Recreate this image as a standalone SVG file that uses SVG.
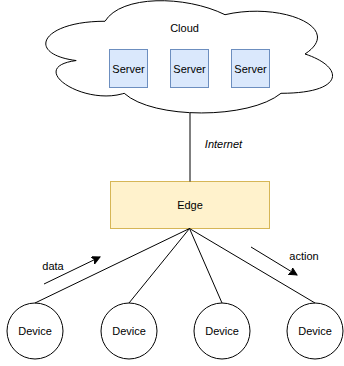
<svg xmlns="http://www.w3.org/2000/svg" width="344" height="366" viewBox="0 0 344 366">
  <style>
    text { font-family: "Liberation Sans", Arial, Helvetica, sans-serif; font-size: 11px; fill: #000; text-anchor: middle; }
    .server { fill: #dae8fc; stroke: #6c8ebf; stroke-width: 1; }
    .edge { fill: #fff2cc; stroke: #d6b656; stroke-width: 1; }
    .device { fill: #fff; stroke: #000; stroke-width: 1; }
    .cloud { fill: #fff; stroke: #000; stroke-width: 1; }
    .conn { stroke: #000; stroke-width: 1; fill: none; }
  </style>
  <defs>
    <marker id="arrow" markerWidth="10" markerHeight="10" refX="8" refY="4" orient="auto" markerUnits="userSpaceOnUse">
      <path d="M0,0 L8,4 L0,8 L2,4 Z" fill="#000" stroke="#000" stroke-width="1"/>
    </marker>
  </defs>

  <g id="cloud">
    <path class="cloud" d="M105,21.25 C41,21.25 25,54 76.2,60.55 C25,67.1 82.6,106.4 124.2,93.3 C153,119.5 249,119.5 281,93.3 C345,93.3 345,67.1 305,54 C345,27.8 281,1.6 225,14.7 C185,-4.95 121,-4.95 105,21.25 Z"/>
    <text x="184.5" y="32">Cloud</text>
  </g>

  <g id="server1">
    <rect class="server" x="109.5" y="49.5" width="38" height="38"/>
    <text x="128.5" y="72.5">Server</text>
  </g>
  <g id="server2">
    <rect class="server" x="170.5" y="49.5" width="38" height="38"/>
    <text x="189.5" y="72.5">Server</text>
  </g>
  <g id="server3">
    <rect class="server" x="231.5" y="49.5" width="38" height="38"/>
    <text x="250.5" y="72.5">Server</text>
  </g>

  <g id="edge">
    <rect class="edge" x="110.5" y="181.5" width="159" height="47"/>
    <text x="190" y="209">Edge</text>
  </g>

  <g id="device1">
    <circle class="device" cx="35" cy="331" r="28"/>
    <text x="35" y="335">Device</text>
  </g>
  <g id="device2">
    <circle class="device" cx="129" cy="331" r="28"/>
    <text x="129" y="335">Device</text>
  </g>
  <g id="device3">
    <circle class="device" cx="222" cy="331" r="28"/>
    <text x="222" y="335">Device</text>
  </g>
  <g id="device4">
    <circle class="device" cx="315" cy="331" r="28"/>
    <text x="315" y="335">Device</text>
  </g>

  <g id="connectors">
    <line class="conn" x1="190" y1="113" x2="190" y2="181.5"/>
    <text x="223.5" y="148" font-style="italic">Internet</text>
    <line class="conn" x1="189.5" y1="228.5" x2="35" y2="303"/>
    <line class="conn" x1="189.5" y1="228.5" x2="129" y2="303"/>
    <line class="conn" x1="189.5" y1="228.5" x2="222" y2="303"/>
    <line class="conn" x1="189.5" y1="228.5" x2="315" y2="303"/>
    <line class="conn" x1="44" y1="284" x2="100" y2="257" marker-end="url(#arrow)"/>
    <text x="53" y="270">data</text>
    <line class="conn" x1="251" y1="247" x2="297" y2="275" marker-end="url(#arrow)"/>
    <text x="304" y="260">action</text>
  </g>
</svg>
